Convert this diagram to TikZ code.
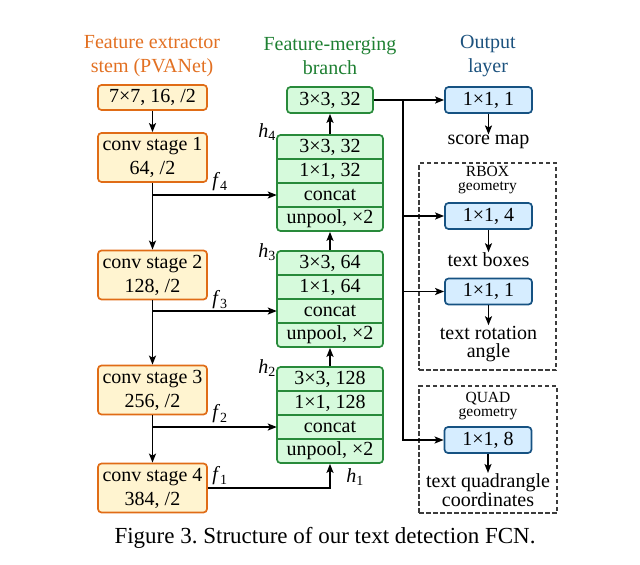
\documentclass[tikz,border=0pt]{standalone}
\usepackage{fontspec}
\setmainfont{Liberation Serif}
\usetikzlibrary{arrows.meta}
\definecolor{orgH}{RGB}{226,112,34}
\definecolor{orgD}{RGB}{224,108,22}
\definecolor{orgF}{RGB}{255,244,208}
\definecolor{grnH}{RGB}{30,128,50}
\definecolor{grnD}{RGB}{40,138,58}
\definecolor{grnF}{RGB}{214,250,220}
\definecolor{bluH}{RGB}{28,82,126}
\definecolor{bluD}{RGB}{22,82,130}
\definecolor{bluF}{RGB}{214,237,255}
\definecolor{dashC}{RGB}{60,60,60}
\newcommand\fsmain{\fontsize{20}{24}\selectfont}
\newcommand\fstight{\fontsize{20}{18.5}\selectfont}
\newcommand\fssmall{\fontsize{15.5}{14}\selectfont}
\newcommand\fscap{\fontsize{23}{27}\selectfont}
\frenchspacing
\begin{document}
\begin{tikzpicture}[x=1pt,y=-1pt,
  >={Stealth[length=9pt,width=7pt,inset=2pt]},
  conn/.style={line width=1.7pt,black},
  obox/.style={draw=orgD,fill=orgF,line width=1.7pt,rounded corners=3.5pt,minimum width=109pt,inner sep=0pt,align=center,font=\fsmain},
  gbox/.style={draw=grnD,fill=grnF,line width=1.7pt,rounded corners=3.5pt,minimum width=86pt,minimum height=26pt,inner sep=0pt,font=\fsmain},
  ggroup/.style={draw=grnD,fill=grnF,line width=1.7pt,rounded corners=3.5pt,minimum width=106pt,minimum height=96pt,inner sep=0pt},
  growbox/.style={minimum width=106pt,minimum height=24pt,inner sep=0pt,font=\fsmain},
  gline/.style={draw=grnD,line width=1.6pt},
  bbox/.style={draw=bluD,fill=bluF,line width=1.7pt,rounded corners=3.5pt,minimum width=87pt,minimum height=26pt,inner sep=0pt,font=\fsmain},
  dbox/.style={draw=dashC,dash pattern=on 4.5pt off 2.5pt,line width=1.2pt,inner sep=0pt},
  otext/.style={inner sep=0.5pt,align=center,font=\fstight},
  stitle/.style={inner sep=0pt,align=center,font=\fssmall},
  head/.style={inner sep=0pt,align=center,font=\fsmain},
  lbl/.style={inner sep=0pt,font=\fsmain}]
\useasboundingbox (0,0) rectangle (640,565);

% headers
\node[head,text=orgH] (hA) at (152,56) {Feature extractor\\stem (PVANet)};
\node[head,text=grnH] (hB) at (330,56) {Feature-merging\\branch};
\node[head,text=bluH] (hC) at (488,56) {Output\\layer};

% left column
\node[obox,minimum height=25pt] (s0) at (152.5,97.5) {7×7, 16, /2};
\node[obox,minimum height=49pt] (c1) at (152.5,157.5) {conv stage 1\\64, /2};
\node[obox,minimum height=49pt] (c2) at (152.5,275) {conv stage 2\\128, /2};
\node[obox,minimum height=49pt] (c3) at (152.5,390) {conv stage 3\\256, /2};
\node[obox,minimum height=49pt] (c4) at (152.5,488) {conv stage 4\\384, /2};

% merging branch
\node[gbox] (top) at (330,100) {3×3, 32};

\node[ggroup] (g4) at (330,183) {};
\node[growbox] (g4a) at (330,147) {3×3, 32};
\node[growbox] (g4b) at (330,171) {1×1, 32};
\node[growbox] (g4c) at (330,195) {concat};
\node[growbox] (g4d) at (330,219) {unpool, ×2};
\draw[gline] (g4a.south west) -- (g4a.south east);
\draw[gline] (g4b.south west) -- (g4b.south east);
\draw[gline] (g4c.south west) -- (g4c.south east);

\node[ggroup] (g3) at (330,299) {};
\node[growbox] (g3a) at (330,263) {3×3, 64};
\node[growbox] (g3b) at (330,287) {1×1, 64};
\node[growbox] (g3c) at (330,311) {concat};
\node[growbox] (g3d) at (330,335) {unpool, ×2};
\draw[gline] (g3a.south west) -- (g3a.south east);
\draw[gline] (g3b.south west) -- (g3b.south east);
\draw[gline] (g3c.south west) -- (g3c.south east);

\node[ggroup] (g2) at (330,415) {};
\node[growbox] (g2a) at (330,379) {3×3, 128};
\node[growbox] (g2b) at (330,403) {1×1, 128};
\node[growbox] (g2c) at (330,427) {concat};
\node[growbox] (g2d) at (330,451) {unpool, ×2};
\draw[gline] (g2a.south west) -- (g2a.south east);
\draw[gline] (g2b.south west) -- (g2b.south east);
\draw[gline] (g2c.south west) -- (g2c.south east);

% output layer
\node[dbox,minimum width=137pt,minimum height=207pt] (rb) at (487.5,266.5) {};
\node[dbox,minimum width=138pt,minimum height=127pt] (qb) at (488,449.5) {};
\node[stitle] (rbt) at (487.5,180) {RBOX\\geometry};
\node[stitle] (qbt) at (488,406) {QUAD\\geometry};

\node[bbox] (o1) at (488.5,100) {1×1, 1};
\node[otext] (sm) at (488.5,142) {score map};
\node[bbox] (o4) at (488.5,216) {1×1, 4};
\node[otext] (tb) at (488.5,260) {text boxes};
\node[bbox] (o5) at (488.5,291.5) {1×1, 1};
\node[otext] (ta) at (488.5,344) {text rotation\\angle};
\node[bbox] (o8) at (488,440) {1×1, 8};
\node[otext] (tq) at (488,490) {text quadrangle\\coordinates};

% labels
\node[lbl] (lf4) at (220,182) {\textit{f}\textsubscript{4}};
\node[lbl] (lf3) at (220,300) {\textit{f}\textsubscript{3}};
\node[lbl] (lf2) at (220,414) {\textit{f}\textsubscript{2}};
\node[lbl] (lf1) at (220,476) {\textit{f}\textsubscript{1}};
\node[lbl] (lh4) at (267,132) {\textit{h}\textsubscript{4}};
\node[lbl] (lh3) at (267,252) {\textit{h}\textsubscript{3}};
\node[lbl] (lh2) at (267,368) {\textit{h}\textsubscript{2}};
\node[lbl] (lh1) at (355,477) {\textit{h}\textsubscript{1}};

% connectors left
\draw[conn,->] (s0) -- (c1);
\draw[conn,->] (c1) -- (c2);
\draw[conn,->] (c2) -- (c3);
\draw[conn,->] (c3) -- (c4);
\draw[conn,->] (c1.south |- g4c.west) -- (g4c.west);
\draw[conn,->] (c2.south |- g3c.west) -- (g3c.west);
\draw[conn,->] (c3.south |- g2c.west) -- (g2c.west);
\draw[conn,->] (c4.east) -| (g2.south);

% connectors merging
\draw[conn,->] (g2.north) -- (g3.south);
\draw[conn,->] (g3.north) -- (g4.south);
\draw[conn,->] (g4.north) -- (top.south);

% connectors output
\coordinate (br) at (403,100);
\draw[conn,->] (top.east) -- (o1.west);
\draw[conn,->] (br) |- (o8.west);
\draw[conn,->] (br |- o4.west) -- (o4.west);
\draw[conn,->] (br |- o5.west) -- (o5.west);
\draw[conn,->] (o1.south) -- (sm.north);
\draw[conn,->] (o4.south) -- (tb.north);
\draw[conn,->] (o5.south) -- (ta.north);
\draw[conn,->] (o8.south) -- (tq.north);

% caption
\node[inner sep=0pt,font=\fscap] (cap) at (325,538) {Figure 3. Structure of our text detection FCN.};
\end{tikzpicture}
\end{document}
